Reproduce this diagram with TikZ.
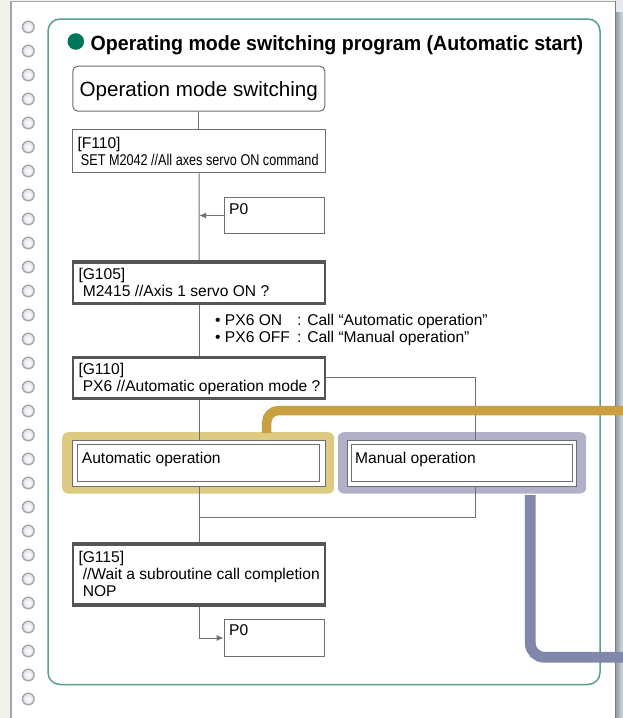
\documentclass[tikz,border=0pt]{standalone}
\usepackage{fontspec}
\setmainfont{Liberation Sans}
\usetikzlibrary{arrows.meta}
\definecolor{pagebeige}{HTML}{F3F2EA}
\definecolor{edgegray}{HTML}{A6A6A6}
\definecolor{rimgray}{HTML}{7A7A7A}
\definecolor{topright}{HTML}{E6EAEC}
\definecolor{framegreen}{HTML}{55A08A}
\definecolor{dotgreen}{HTML}{00775B}
\definecolor{boxgray}{HTML}{6E6E6E}
\definecolor{boxdark}{HTML}{555555}
\definecolor{conngray}{HTML}{707070}
\definecolor{goldbg}{HTML}{DCCB80}
\definecolor{goldline}{HTML}{C8A042}
\definecolor{lavbg}{HTML}{B0B1C9}
\definecolor{blueline}{HTML}{8087AB}
\definecolor{circring}{HTML}{A2A7B1}
\definecolor{shadedark}{HTML}{8F9BA5}
\definecolor{shadelight}{HTML}{D6DDE1}
\newcommand{\bodyfont}{\fontsize{15.6}{16.6}\selectfont}
\newcommand{\bigfont}{\fontsize{20.6}{24}\selectfont}
\begin{document}
\begin{tikzpicture}[x=1pt,y=-1pt,
  pbox/.style={draw=boxgray, line width=1pt, fill=white, inner sep=0pt, anchor=north west},
  gbox/.style={draw=boxdark, line width=1.8pt, fill=white, inner sep=0pt, anchor=north west},
  dbox/.style={draw=boxgray, line width=0.9pt, inner sep=0pt, anchor=north west},
  bgbox/.style={rounded corners=6pt, inner sep=0pt, anchor=north west},
  txt/.style={anchor=base west, inner sep=0pt, font=\bodyfont},
  conn/.style={draw=conngray, line width=1pt},
  arr/.style={conn, -{Latex[length=7pt,width=6pt]}},
  thickedge/.style={boxdark, line width=3.5pt}
]
\useasboundingbox (0,0) rectangle (623,718);
% page
\fill[pagebeige] (0,0) rectangle (623,718);
\fill[white] (11.5,2) rectangle (615,718);
\fill[topright] (615,0) rectangle (623,12);
\shade[left color=shadedark, right color=shadelight] (615.5,12) rectangle (623,718);
\draw[edgegray, line width=1.5pt] (10.75,718) -- (10.75,1.25) -- (615,1.25);
\draw[rimgray, line width=1pt] (615,1.25) -- (615,718);
% binder holes
\foreach \k in {0,...,28}{
  \shade[inner color=white, outer color=circring!35] (28.3,{27+24*\k}) circle (5.8pt);
  \draw[circring, line width=1.4pt] (28.3,{27+24*\k}) circle (5.8pt);
}
% frame
\draw[framegreen, line width=1.5pt, rounded corners=12pt] (48,19) rectangle (600,684.5);
\fill[dotgreen] (75.8,41.5) circle (8.3pt);
\node[anchor=base west, inner sep=0pt, font=\bigfont\bfseries] (title) at (90.5,50)
  {\scalebox{0.95}[1]{Operating mode switching program (Automatic start)}};

% start
\node[pbox, rounded corners=5pt, minimum width=252pt, minimum height=45pt] (start) at (72.3,65.7) {};
\node[anchor=base west, inner sep=0pt, font=\bigfont] (starttxt) at (79.5,96.7) {Operation mode switching};

% F110
\node[pbox, minimum width=252.5pt, minimum height=43pt] (f110) at (72.3,129.3) {};
\node[txt] (f110a) at (77.3,148.3) {[F110]};
\node[txt] (f110b) at (80.7,165.7) {\scalebox{0.811}[1]{SET M2042 //All axes servo ON command}};

% P0 (first)
\node[pbox, minimum width=100.5pt, minimum height=36.6pt] (p0a) at (223.7,196.7) {};
\node[txt] (p0atxt) at (229,214) {P0};

% G105
\node[gbox, minimum width=251.6pt, minimum height=43.2pt] (g105) at (72.3,260) {};
\draw[thickedge] ([yshift=-1.75pt]g105.north west) -- ([yshift=-1.75pt]g105.north east);
\draw[thickedge] ([yshift=1.75pt]g105.south west) -- ([yshift=1.75pt]g105.south east);
\node[txt] (g105a) at (78.3,279.3) {[G105]};
\node[txt] (g105b) at (82.6,296.7) {M2415 //Axis 1 servo ON ?};

% bullets
\node[txt] (b1a) at (215,325) {• PX6 ON};
\node[txt] (b1b) at (297,325) {: Call “Automatic operation”};
\node[txt] (b2a) at (215,342) {• PX6 OFF};
\node[txt] (b2b) at (297,342) {: Call “Manual operation”};

% G110
\node[gbox, minimum width=251.6pt, minimum height=42.5pt] (g110) at (72.3,355.7) {};
\draw[thickedge] ([yshift=-1.75pt]g110.north west) -- ([yshift=-1.75pt]g110.north east);
\draw[thickedge] ([yshift=1.75pt]g110.south west) -- ([yshift=1.75pt]g110.south east);
\node[txt] (g110a) at (78.3,374) {[G110]};
\node[txt] (g110b) at (82.6,391) {PX6 //Automatic operation mode ?};

% Automatic operation
\node[bgbox, fill=goldbg, minimum width=272pt, minimum height=61.3pt] (autobg) at (62,432) {};
\node[dbox, fill=white, minimum width=252.5pt, minimum height=45.8pt] (autoouter) at (72.3,440) {};
\node[dbox, minimum width=241.5pt, minimum height=36.6pt] (autoinner) at (77.3,444.3) {};
\node[txt] (autotxt) at (81.7,463) {Automatic operation};

% Manual operation
\node[bgbox, fill=lavbg, minimum width=248.3pt, minimum height=61.3pt] (manbg) at (337.7,432) {};
\node[dbox, fill=white, minimum width=229pt, minimum height=45.8pt] (manouter) at (346.7,440) {};
\node[dbox, minimum width=220.8pt, minimum height=36.6pt] (maninner) at (351,444.3) {};
\node[txt] (mantxt) at (355,463.5) {Manual operation};

% G115
\node[gbox, minimum width=251.6pt, minimum height=62.9pt] (g115) at (72.3,542) {};
\draw[thickedge] ([yshift=-1.75pt]g115.north west) -- ([yshift=-1.75pt]g115.north east);
\draw[thickedge] ([yshift=1.75pt]g115.south west) -- ([yshift=1.75pt]g115.south east);
\node[txt] (g115a) at (78.3,562.7) {[G115]};
\node[txt] (g115b) at (82.6,579.3) {//Wait a subroutine call completion};
\node[txt] (g115c) at (82.6,596) {NOP};

% P0 (second)
\node[pbox, minimum width=100.5pt, minimum height=36.4pt] (p0b) at (223.7,619.3) {};
\node[txt] (p0btxt) at (229,635.7) {P0};

% connectors
\draw[conn] (start.south) -- (start.south |- f110.north);
\draw[conn] (f110.south) -- (g105.north);
\draw[arr] (p0a.west) -- (p0a.west -| f110.south);
\draw[conn] (g105.south) -- (g110.north);
\draw[conn] (g110.south) -- (autoouter.north);
\draw[conn] (g110.east) -| ([xshift=14pt]manouter.north);
\draw[conn] (autoouter.south) -- (g115.north);
\path (autoouter.south) ++(0,30.5) coordinate (join);
\draw[conn] ([xshift=14pt]manouter.south) |- (join);
\draw[arr] (g115.south) |- (p0b.west);

% callout bands
\coordinate (gA) at (266.7,433);
\coordinate (gB) at (623,410.5);
\draw[goldline, line width=9.5pt, rounded corners=12pt] (gA) |- (gB);
\coordinate (bA) at (530.3,495);
\coordinate (bB) at (623,657.2);
\draw[blueline, line width=10.8pt, rounded corners=14pt] (bA) |- (bB);
\end{tikzpicture}
\end{document}
